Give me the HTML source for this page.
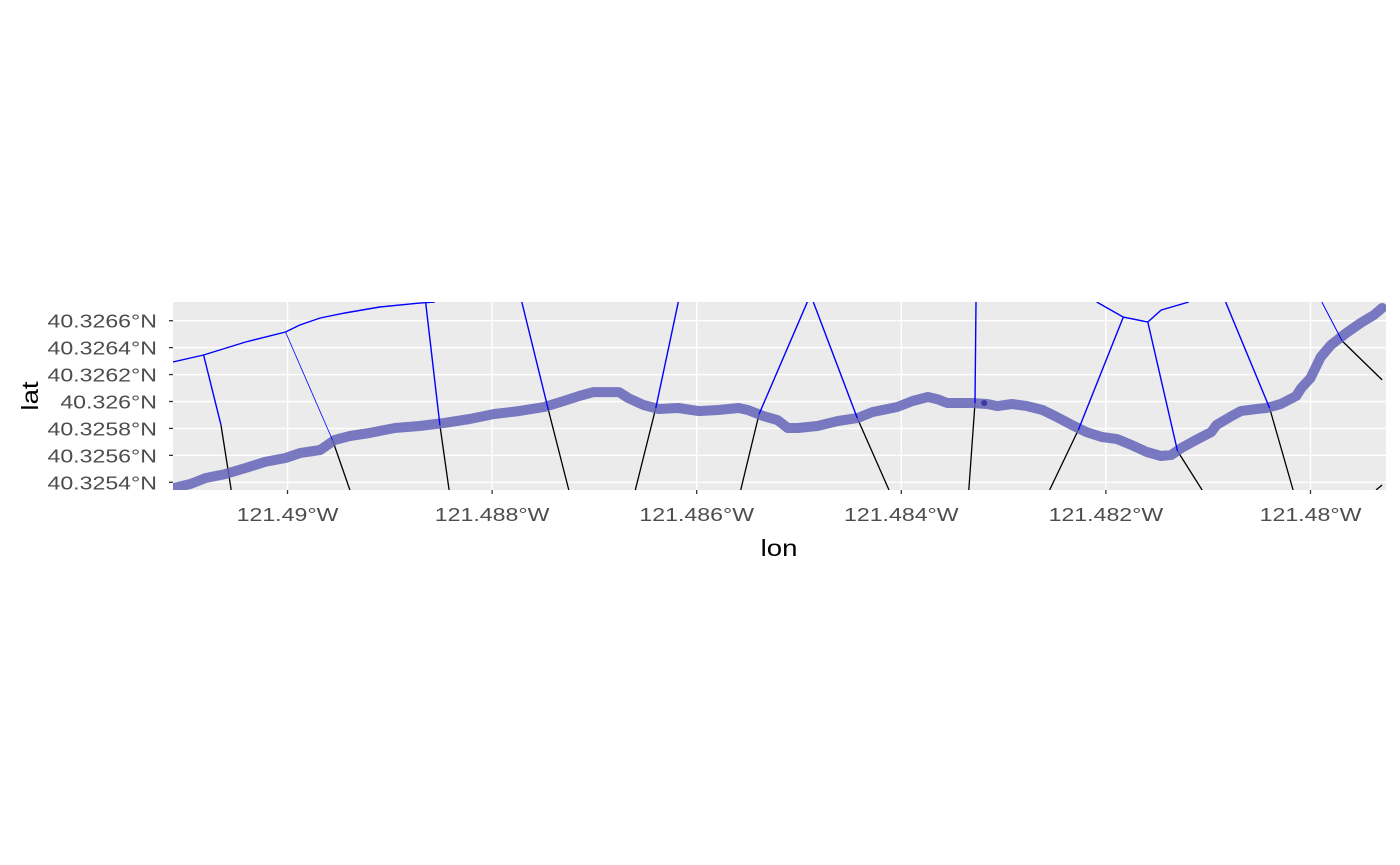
<!DOCTYPE html>
<html><head><meta charset="utf-8">
<style>
html,body{margin:0;padding:0;background:#fff;}
svg{display:block;font-family:"Liberation Sans",Arial,sans-serif;}
</style></head>
<body>
<svg id="chart" width="1400" height="865" viewBox="0 0 1400 865">
<defs><clipPath id="clip"><rect x="173" y="302" width="1213" height="188"/></clipPath></defs>
<rect x="173" y="302" width="1213" height="188" fill="#ebebeb"/>
<g id="grid"></g>
<g id="marks" clip-path="url(#clip)"></g>
<g id="axes"></g>
<text x="0" y="0" font-size="23" text-anchor="middle" fill="#000" transform="translate(779,556) scale(1.2,1)">lon</text>
<text x="0" y="0" font-size="23" text-anchor="middle" fill="#000" transform="translate(38,396) rotate(-90) scale(1.2,1)">lat</text>
</svg>
<script>
const xTicks = [-121.49, -121.488, -121.486, -121.484, -121.482, -121.48];
const xTickLabels = ["121.49°W","121.488°W","121.486°W","121.484°W","121.482°W","121.48°W"];
const yTicks = [40.3254, 40.3256, 40.3258, 40.326, 40.3262, 40.3264, 40.3266];
const yTickLabels = ["40.3254°N","40.3256°N","40.3258°N","40.326°N","40.3262°N","40.3264°N","40.3266°N"];

const trackLon = [-121.49112,-121.49095,-121.49080,-121.49061,-121.49041,-121.49022,-121.49002,-121.48988,-121.48968,-121.48954,-121.48939,-121.48920,-121.48895,-121.48871,-121.48847,-121.48822,-121.48798,-121.48774,-121.48749,-121.48730,-121.48715,-121.48701,-121.48676,-121.48667,-121.48652,-121.48637,-121.48618,-121.48598,-121.48579,-121.48559,-121.48550,-121.48535,-121.48521,-121.48511,-121.48501,-121.48482,-121.48462,-121.48443,-121.48428,-121.48404,-121.48389,-121.48374,-121.48365,-121.48355,-121.48331,-121.48316,-121.48306,-121.48292,-121.48277,-121.48262,-121.48248,-121.48233,-121.48219,-121.48204,-121.48189,-121.48175,-121.48160,-121.48146,-121.48136,-121.48126,-121.48112,-121.48097,-121.48092,-121.48077,-121.48068,-121.48053,-121.48043,-121.48029,-121.48014,-121.48009,-121.48000,-121.47990,-121.47980,-121.47965,-121.47951,-121.47938,-121.47930];
const trackLat = [40.325357,40.325387,40.325432,40.325461,40.325506,40.325551,40.325580,40.325617,40.325640,40.325714,40.325744,40.325766,40.325803,40.325818,40.325840,40.325870,40.325907,40.325929,40.325959,40.326004,40.326041,40.326070,40.326070,40.326026,40.325974,40.325944,40.325952,40.325929,40.325937,40.325952,40.325937,40.325892,40.325862,40.325803,40.325803,40.325818,40.325855,40.325877,40.325922,40.325959,40.326004,40.326033,40.326018,40.325989,40.325989,40.325981,40.325966,40.325981,40.325966,40.325937,40.325885,40.325825,40.325773,40.325736,40.325721,40.325677,40.325625,40.325595,40.325603,40.325655,40.325714,40.325773,40.325825,40.325892,40.325929,40.325944,40.325952,40.325981,40.326041,40.326100,40.326174,40.326330,40.326420,40.326509,40.326583,40.326642,40.326694];
const markerLon = [-121.48319];
const markerLat = [40.325989];

const blueSegLon = [
 [-121.49112,-121.49082,-121.49041,-121.49002,-121.48988,-121.48968,-121.48944,-121.48910,-121.48871,-121.48856],
 [-121.49082,-121.49065],
 [-121.49002,-121.48956],
 [-121.48865,-121.48851],
 [-121.48771,-121.48745],
 [-121.48618,-121.48640],
 [-121.48491,-121.48539],
 [-121.48486,-121.48443],
 [-121.48327,-121.48328],
 [-121.48209,-121.48183,-121.48159,-121.48146,-121.48119],
 [-121.48183,-121.48227],
 [-121.48159,-121.48130],
 [-121.48083,-121.48040],
 [-121.47989,-121.47969]
];
const blueSegLat = [
 [40.326293,40.326345,40.326442,40.326516,40.326568,40.326620,40.326657,40.326702,40.326731,40.326739],
 [40.326345,40.325825],
 [40.326516,40.325714],
 [40.326739,40.325825],
 [40.326739,40.325937],
 [40.326739,40.325952],
 [40.326754,40.325907],
 [40.326739,40.325877],
 [40.326739,40.325989],
 [40.326739,40.326627,40.326590,40.326679,40.326739],
 [40.326627,40.325788],
 [40.326590,40.325632],
 [40.326739,40.325952],
 [40.326739,40.326449]
];
const blackSegLon = [
 [-121.49065,-121.49055],
 [-121.48956,-121.48939],
 [-121.48851,-121.48842],
 [-121.48745,-121.48725],
 [-121.48640,-121.48660],
 [-121.48539,-121.48557],
 [-121.48443,-121.48412],
 [-121.48328,-121.48334],
 [-121.48227,-121.48255],
 [-121.48130,-121.48106],
 [-121.48040,-121.48017],
 [-121.47969,-121.47930],
 [-121.47936,-121.47930]
];
const blackSegLat = [
 [40.325825,40.325343],
 [40.325714,40.325343],
 [40.325825,40.325343],
 [40.325937,40.325343],
 [40.325952,40.325343],
 [40.325907,40.325343],
 [40.325877,40.325343],
 [40.325989,40.325343],
 [40.325788,40.325343],
 [40.325632,40.325343],
 [40.325952,40.325343],
 [40.326449,40.326160],
 [40.325343,40.325380]
];
const blueWidths = [1.4,1.4,0.8,1.4,1.4,1.4,1.4,1.4,1.4,1.4,1.4,1.4,1.4,1.0];

const NS = "http://www.w3.org/2000/svg";
function X(lon){ return 287.5 + (lon + 121.49) * 102300; }
function Y(lat){ return 320.7 - (lat - 40.3266) * 134650; }
function mk(tag, attrs, parent){ const e=document.createElementNS(NS,tag); for(const k in attrs) e.setAttribute(k,attrs[k]); parent.appendChild(e); return e; }

const grid=document.getElementById('grid'), marks=document.getElementById('marks'), axes=document.getElementById('axes');
xTicks.forEach((t,i)=>{
  const x=X(t);
  const g=mk('line',{x1:x,x2:x,y1:302,y2:490,stroke:'#fff','stroke-width':1.4},grid);
  
  
  const tk=mk('line',{x1:x,x2:x,y1:490,y2:494,stroke:'#333','stroke-width':1.3},axes);
  
  
  const lb=mk('text',{x:0,y:0,'font-size':18.5,'text-anchor':'middle',fill:'#4d4d4d',transform:'translate('+x+',521) scale(1.25,1)'},axes);
  lb.textContent=xTickLabels[i];
  
  
});
yTicks.forEach((t,i)=>{
  const y=Y(t);
  const g=mk('line',{x1:173,x2:1386,y1:y,y2:y,stroke:'#fff','stroke-width':1.4},grid);
  
  
  const tk=mk('line',{x1:169,x2:173,y1:y,y2:y,stroke:'#333','stroke-width':1.3},axes);
  
  
  const lb=mk('text',{x:0,y:0,'font-size':18.5,'text-anchor':'end',fill:'#4d4d4d',transform:'translate(157,'+(y+7)+') scale(1.25,1)'},axes);
  lb.textContent=yTickLabels[i];
  
  
});
function pts(lons,lats){ return lons.map((v,i)=>X(v).toFixed(1)+','+Y(lats[i]).toFixed(1)).join(' '); }
blackSegLon.forEach((s,i)=>{
  const p=mk('polyline',{points:pts(s,blackSegLat[i]),fill:'none',stroke:'#000','stroke-width':1.3},marks);
  
  
});
const tr=mk('polyline',{points:pts(trackLon,trackLat),fill:'none',stroke:'rgb(100,100,185)','stroke-opacity':0.85,'stroke-width':10,'stroke-linejoin':'round','stroke-linecap':'round'},marks);


blueSegLon.forEach((s,i)=>{
  const p=mk('polyline',{points:pts(s,blueSegLat[i]),fill:'none',stroke:'#0000ff','stroke-width':blueWidths[i]},marks);
  
  
});
markerLon.forEach((v,i)=>{
  const c=mk('circle',{cx:X(v),cy:Y(markerLat[i]),r:3,fill:'#3a3aa0'},marks);
  
  
});
</script>
</body></html>
